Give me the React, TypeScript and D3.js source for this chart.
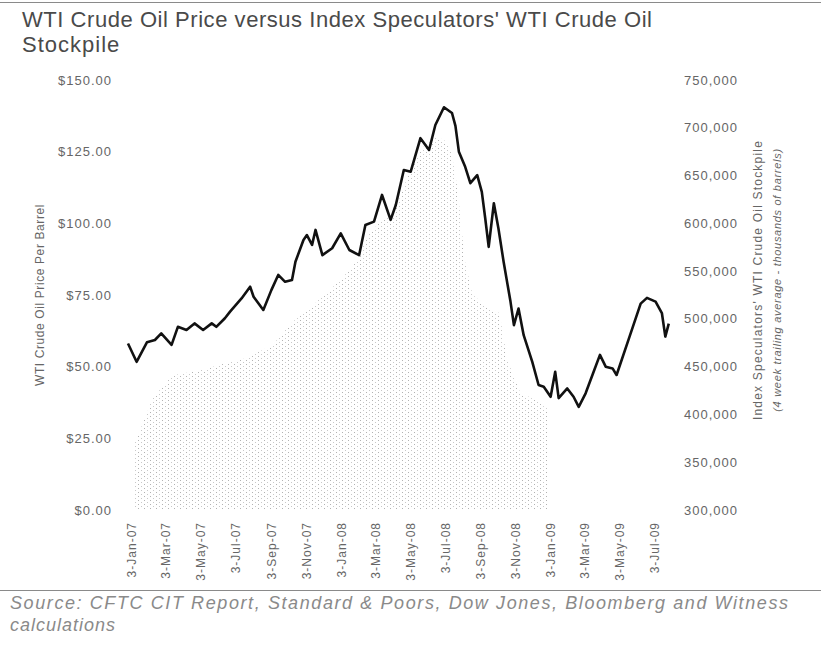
import { useEffect, useRef } from "react";
import * as d3 from "d3";

// weekly-ish WTI price ($/bbl)
const priceDates = [
  "2006-12-27", "2007-01-11", "2007-01-29", "2007-02-12", "2007-02-23", "2007-03-13",
  "2007-03-24", "2007-04-08", "2007-04-22", "2007-05-07", "2007-05-22", "2007-05-30",
  "2007-06-14", "2007-06-23", "2007-07-13", "2007-07-28", "2007-08-03", "2007-08-20",
  "2007-09-03", "2007-09-15", "2007-09-27", "2007-10-09", "2007-10-15", "2007-10-29",
  "2007-11-04", "2007-11-13", "2007-11-19", "2007-12-01", "2007-12-18", "2008-01-02",
  "2008-01-17", "2008-02-03", "2008-02-14", "2008-02-29", "2008-03-14", "2008-03-29",
  "2008-04-07", "2008-04-21", "2008-05-03", "2008-05-20", "2008-06-04", "2008-06-15",
  "2008-06-30", "2008-07-14", "2008-07-20", "2008-07-26", "2008-08-06", "2008-08-15",
  "2008-08-27", "2008-09-04", "2008-09-10", "2008-09-16", "2008-09-25", "2008-10-03",
  "2008-10-12", "2008-10-24", "2008-10-30", "2008-11-07", "2008-11-16", "2008-12-01",
  "2008-12-12", "2008-12-21", "2009-01-02", "2009-01-10", "2009-01-16", "2009-01-31",
  "2009-02-11", "2009-02-20", "2009-03-04", "2009-03-18", "2009-03-29", "2009-04-08",
  "2009-04-20", "2009-04-27", "2009-05-18", "2009-06-08", "2009-06-19", "2009-07-04",
  "2009-07-15", "2009-07-21", "2009-07-27",
];
const priceValues = [
  58.1, 51.7, 58.5, 59.3, 61.6, 57.6,
  63.9, 62.8, 65.1, 62.8, 65.1, 63.9,
  66.9, 69.2, 73.8, 77.9, 74.4, 69.8,
  76.7, 82.0, 79.6, 80.2, 86.6, 94.2,
  95.9, 92.5, 97.7, 88.9, 91.3, 96.5,
  90.7, 88.9, 99.4, 100.6, 109.9, 101.2,
  106.4, 118.6, 118.0, 129.7, 125.6, 134.3,
  140.5, 138.5, 134.0, 125.0, 119.7, 114.0,
  116.8, 111.0, 101.7, 91.8, 107.0, 98.2,
  86.6, 72.7, 64.5, 70.3, 61.0, 51.7,
  43.6, 43.0, 39.5, 48.2, 39.0, 42.4,
  39.5, 36.0, 40.7, 48.2, 54.1, 50.0,
  49.4, 47.1, 59.5, 72.0, 74.0, 72.7,
  68.7, 60.5, 65.0,
];

// index speculators' stockpile, thousands of barrels (4 week average)
const stockDates = [
  "2007-01-08", "2007-02-09", "2007-03-15", "2007-05-01", "2007-06-05", "2007-07-22",
  "2007-09-06", "2007-10-05", "2007-11-04", "2007-12-09", "2008-01-09", "2008-02-01",
  "2008-02-18", "2008-03-10", "2008-04-05", "2008-05-05", "2008-05-23", "2008-06-18",
  "2008-07-05", "2008-07-14", "2008-07-24", "2008-08-05", "2008-08-19", "2008-09-18",
  "2008-10-05", "2008-10-18", "2008-11-10", "2008-12-06", "2008-12-29",
];
const stockValues = [
  370000, 418000, 441000, 446000, 452000, 459000,
  473000, 494000, 509000, 527000, 546000, 562000,
  588000, 601000, 612000, 661000, 679000, 691000,
  685000, 671000, 635000, 562000, 525000, 511000,
  506000, 457000, 423000, 415000, 405000,
];

const xTickDates = [
  "2007-01-03", "2007-03-03", "2007-05-03", "2007-07-03", "2007-09-03", "2007-11-03",
  "2008-01-03", "2008-03-03", "2008-05-03", "2008-07-03", "2008-09-03", "2008-11-03",
  "2009-01-03", "2009-03-03", "2009-05-03", "2009-07-03",
];
const xTickLabels = [
  "3-Jan-07", "3-Mar-07", "3-May-07", "3-Jul-07", "3-Sep-07", "3-Nov-07",
  "3-Jan-08", "3-Mar-08", "3-May-08", "3-Jul-08", "3-Sep-08", "3-Nov-08",
  "3-Jan-09", "3-Mar-09", "3-May-09", "3-Jul-09",
];
const priceTicks = [0, 25, 50, 75, 100, 125, 150];
const stockTicks = [300000, 350000, 400000, 450000, 500000, 550000, 600000, 650000, 700000, 750000];

const FONT = "'Liberation Sans', Arial, sans-serif";

const App = () => {
  const ref = useRef<SVGSVGElement | null>(null);

  useEffect(() => {
    if (!ref.current) return;
    const svg = d3.select(ref.current);
    svg.selectAll("*").remove();

    const parse = d3.timeParse("%Y-%m-%d");
    const x = d3.scaleTime([parse("2007-01-03")!, parse("2009-07-03")!], [132, 655]);
    const yL = d3.scaleLinear([0, 150], [510, 80]);
    const yR = d3.scaleLinear([300000, 750000], [510, 80]);

    // sparse stipple, like the scanned light grey area
    const pat = svg
      .append("defs")
      .append("pattern")
      .attr("id", "stipple")
      .attr("patternUnits", "userSpaceOnUse")
      .attr("width", 6)
      .attr("height", 4);
    pat.append("rect").attr("x", 0).attr("y", 0).attr("width", 1).attr("height", 1).attr("fill", "#b2b2b2");
    pat.append("rect").attr("x", 3).attr("y", 2).attr("width", 1).attr("height", 1).attr("fill", "#c8c8c8");

    // top + bottom rules
    svg.append("line").attr("x1", 0).attr("x2", 821).attr("y1", 2.5).attr("y2", 2.5)
      .attr("stroke", "#8a8a8a").attr("stroke-width", 1.2);
    svg.append("line").attr("x1", 0).attr("x2", 821).attr("y1", 590.5).attr("y2", 590.5)
      .attr("stroke", "#8a8a8a").attr("stroke-width", 1.2);

    // title
    const title = svg.append("text").attr("font-family", FONT).attr("font-size", 22).attr("fill", "#4a4a4a");
    title.append("tspan").attr("x", 22).attr("y", 27).attr("textLength", 630)
      .text("WTI Crude Oil Price versus Index Speculators' WTI Crude Oil");
    title.append("tspan").attr("x", 22).attr("y", 52).attr("letter-spacing", 1).text("Stockpile");

    // stockpile area
    const stock = stockDates.map((d, i) => ({ date: parse(d)!, v: stockValues[i] }));
    const area = d3
      .area<{ date: Date; v: number }>()
      .x((d) => x(d.date))
      .y0(yR(300000))
      .y1((d) => yR(d.v));
    svg.append("path").datum(stock).attr("d", area).attr("fill", "url(#stipple)");

    // price line
    const price = priceDates.map((d, i) => ({ date: parse(d)!, v: priceValues[i] }));
    const line = d3
      .line<{ date: Date; v: number }>()
      .x((d) => x(d.date))
      .y((d) => yL(d.v));
    svg.append("path").datum(price).attr("d", line).attr("fill", "none")
      .attr("stroke", "#111").attr("stroke-width", 2.6).attr("stroke-linejoin", "round");

    // left axis labels
    const fmtL = d3.format("$.2f");
    svg.append("g").selectAll("text").data(priceTicks).join("text")
      .attr("x", 112).attr("y", (d) => yL(d)).attr("dy", "0.35em")
      .attr("text-anchor", "end").attr("letter-spacing", 1)
      .attr("font-family", FONT).attr("font-size", 13).attr("fill", "#666")
      .text((d) => fmtL(d));

    // right axis labels
    const fmtR = d3.format(",");
    svg.append("g").selectAll("text").data(stockTicks).join("text")
      .attr("x", 684).attr("y", (d) => yR(d)).attr("dy", "0.35em").attr("letter-spacing", 1)
      .attr("font-family", FONT).attr("font-size", 13).attr("fill", "#666")
      .text((d) => fmtR(d));

    // x axis labels (rotated)
    svg.append("g").selectAll("text").data(xTickDates).join("text")
      .attr("transform", (d) => `translate(${x(parse(d)!)},522) rotate(-90)`)
      .attr("dy", "0.35em").attr("text-anchor", "end").attr("letter-spacing", 1)
      .attr("font-family", FONT).attr("font-size", 12).attr("fill", "#666")
      .text((_, i) => xTickLabels[i]);

    // axis titles
    svg.append("text").attr("transform", "translate(40,295) rotate(-90)")
      .attr("dy", "0.35em").attr("text-anchor", "middle").attr("letter-spacing", 0.6)
      .attr("font-family", FONT).attr("font-size", 12).attr("fill", "#666")
      .text("WTI Crude Oil Price Per Barrel");
    svg.append("text").attr("transform", "translate(758,280) rotate(-90)")
      .attr("dy", "0.35em").attr("text-anchor", "middle").attr("letter-spacing", 1.2)
      .attr("font-family", FONT).attr("font-size", 12).attr("fill", "#666")
      .text("Index Speculators' WTI Crude Oil Stockpile");
    svg.append("text").attr("transform", "translate(777,280) rotate(-90)")
      .attr("dy", "0.35em").attr("text-anchor", "middle").attr("letter-spacing", 0.7)
      .attr("font-family", FONT).attr("font-size", 11).attr("font-style", "italic").attr("fill", "#666")
      .text("(4 week trailing average - thousands of barrels)");

    // source note
    const src = svg.append("text").attr("font-family", FONT).attr("font-size", 18)
      .attr("font-style", "italic").attr("fill", "#8a8a8a");
    src.append("tspan").attr("x", 10).attr("y", 609).attr("textLength", 778)
      .text("Source: CFTC CIT Report, Standard & Poors, Dow Jones, Bloomberg and Witness");
    src.append("tspan").attr("x", 10).attr("y", 631).attr("letter-spacing", 1).text("calculations");
  }, []);

  return (
    <svg
      ref={ref}
      width={821}
      height={647}
      style={{ position: "absolute", left: 0, top: 0, background: "#fff" }}
    />
  );
};

export default App;
